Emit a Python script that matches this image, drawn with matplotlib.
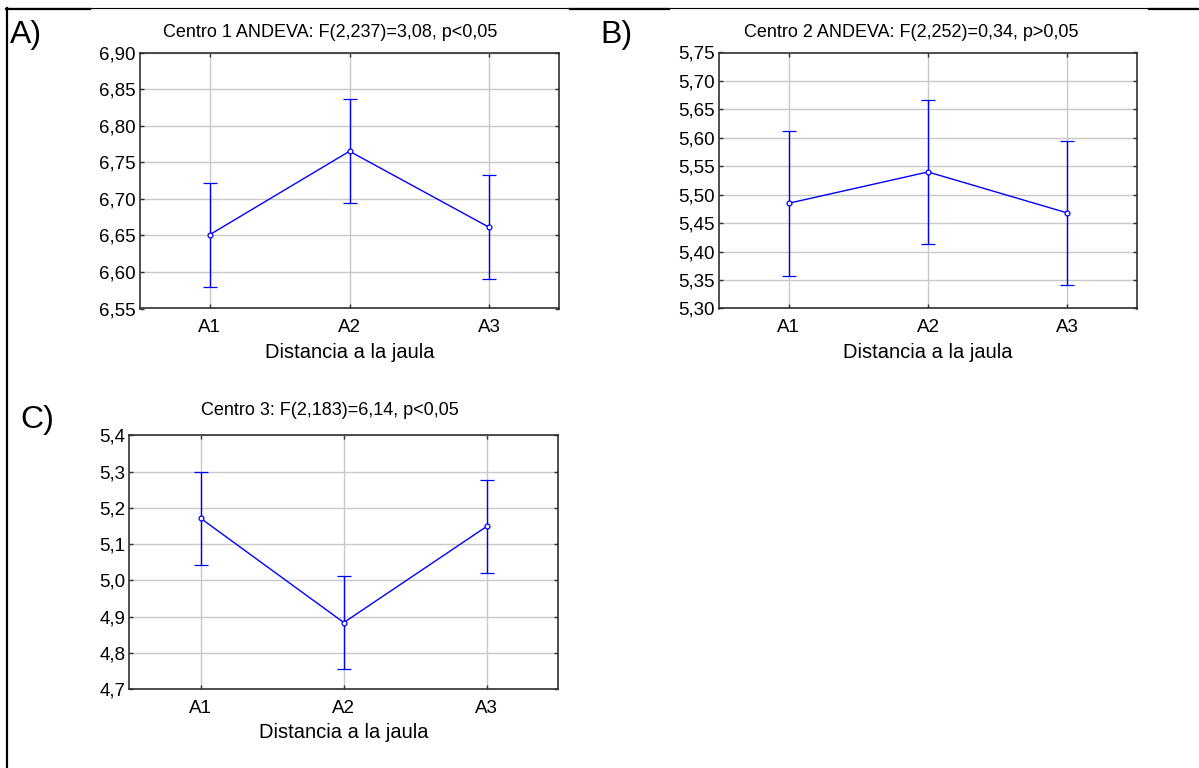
import matplotlib
matplotlib.use("Agg")
import matplotlib.pyplot as plt
from matplotlib.lines import Line2D
from matplotlib.ticker import FuncFormatter, MultipleLocator

plt.rcParams['font.family'] = ['Liberation Sans', 'DejaVu Sans']

W, H = 1199, 768

# Categories and group means with confidence half-widths
categories = ["A1", "A2", "A3"]

centro1_means = [6.651, 6.765, 6.661]
centro1_err = [0.071, 0.071, 0.071]

centro2_means = [5.485, 5.540, 5.468]
centro2_err = [0.127, 0.127, 0.127]

centro3_means = [5.171, 4.884, 5.149]
centro3_err = [0.128, 0.128, 0.128]

titles = [
    "Centro 1 ANDEVA: F(2,237)=3,08, p<0,05",
    "Centro 2 ANDEVA: F(2,252)=0,34, p>0,05",
    "Centro 3: F(2,183)=6,14, p<0,05",
]
panel_letters = ["A)", "B)", "C)"]
xlabel = "Distancia a la jaula"


def px_box(left, top, right, bottom):
    return [left / W, 1 - bottom / H, (right - left) / W, (bottom - top) / H]


fig = plt.figure(figsize=(W / 100, H / 100), dpi=100)
fig.patch.set_facecolor("white")

panels = [
    dict(box=px_box(140, 52.5, 559, 308.5), means=centro1_means, err=centro1_err,
         ylim=(6.55, 6.90), step=0.05, dec=2, title_x=330, title_y=37,
         letter_x=10, letter_y=43, xl_y=358),
    dict(box=px_box(719, 52.5, 1137, 308.5), means=centro2_means, err=centro2_err,
         ylim=(5.30, 5.75), step=0.05, dec=2, title_x=911, title_y=37,
         letter_x=600, letter_y=43, xl_y=358),
    dict(box=px_box(129.3, 435.3, 558.3, 689.3), means=centro3_means, err=centro3_err,
         ylim=(4.7, 5.4), step=0.1, dec=1, title_x=330, title_y=415,
         letter_x=20, letter_y=428, xl_y=738),
]

blue = "#0000ff"
xpos = [1, 2, 3]

for i, p in enumerate(panels):
    ax = fig.add_axes(p["box"])
    ax.errorbar(xpos, p["means"], yerr=p["err"], color=blue, lw=1.0,
                elinewidth=1.0, capsize=5, capthick=1.0,
                marker="o", ms=3.5, mfc="white", mec=blue, mew=0.9, zorder=3)
    ax.set_xlim(0.5, 3.5)
    ax.set_ylim(*p["ylim"])
    ax.set_xticks(xpos)
    ax.set_xticklabels(categories)
    ax.yaxis.set_major_locator(MultipleLocator(p["step"]))
    dec = p["dec"]
    ax.yaxis.set_major_formatter(
        FuncFormatter(lambda v, _, d=dec: f"{v:.{d}f}".replace(".", ",")))
    ax.grid(True, color="#c8c8c8", lw=1.0)
    ax.set_axisbelow(True)
    for s in ax.spines.values():
        s.set_color("#303030")
        s.set_linewidth(1.2)
    ax.tick_params(direction="in", length=3, width=1, color="#303030",
                   labelsize=13.5, top=True, right=True)
    ax.tick_params(axis="x", pad=7.5)
    ax.tick_params(axis="y", pad=3)
    cx = (p["box"][0] + p["box"][2] / 2) * W
    fig.text(cx / W, 1 - p["xl_y"] / H, xlabel, ha="center", va="baseline",
             fontsize=14.5)
    fig.text(p["title_x"] / W, 1 - p["title_y"] / H, titles[i], ha="center",
             va="baseline", fontsize=13)
    fig.text(p["letter_x"] / W, 1 - p["letter_y"] / H, panel_letters[i],
             ha="left", va="baseline", fontsize=23)

# Outer frame lines
def hline(x0, x1, y, lw):
    fig.add_artist(Line2D([x0 / W, x1 / W], [1 - y / H, 1 - y / H],
                          color="black", lw=lw, transform=fig.transFigure))

hline(6, W, 8, 0.8)
for a, b in [(6, 90), (570, 669), (1149, W)]:
    hline(a, b, 9, 1.6)
fig.add_artist(Line2D([7 / W, 7 / W], [1 - 8 / H, 0], color="black", lw=1.6,
                      transform=fig.transFigure))

fig.savefig("out.png", dpi=100, facecolor="white")
